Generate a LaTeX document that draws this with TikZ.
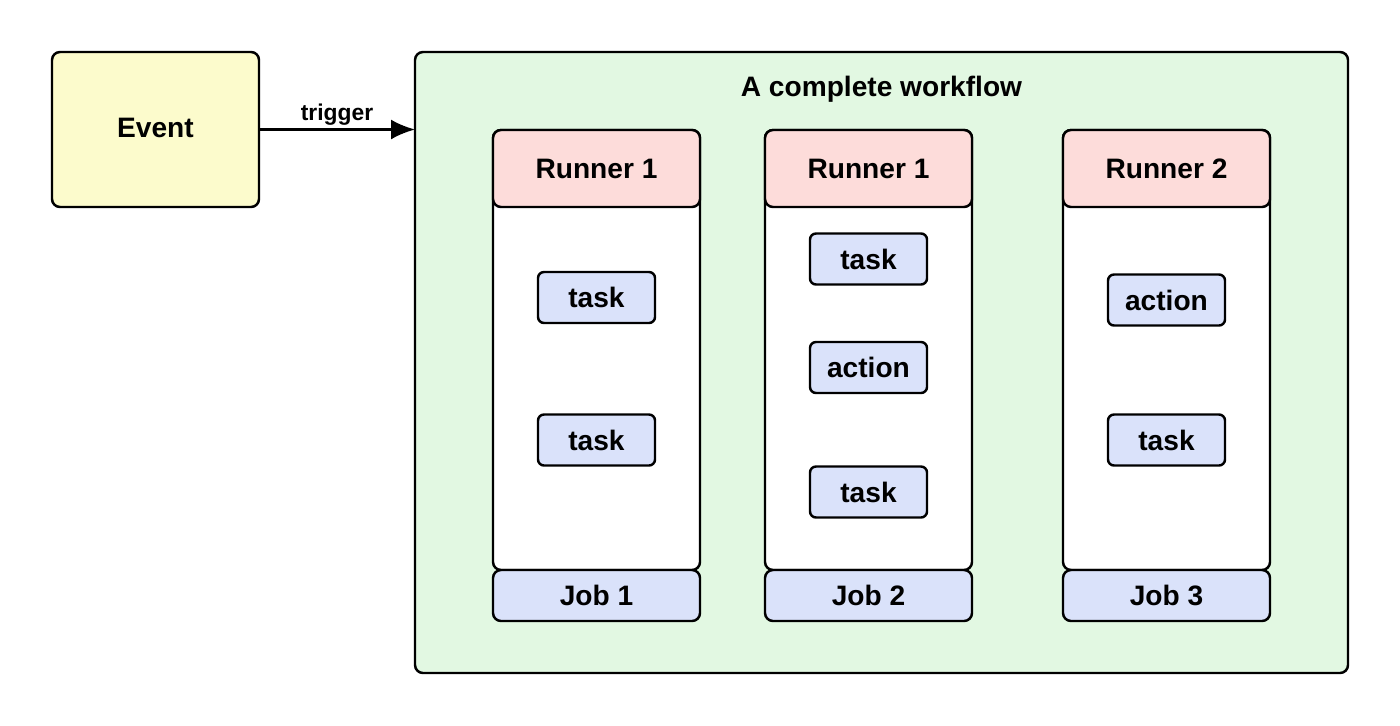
\documentclass[tikz,border=0pt]{standalone}
\usepackage{fontspec}
\setmainfont{Liberation Sans}
\usepackage{tikz}
\usetikzlibrary{arrows.meta, calc, positioning}
\definecolor{eventyellow}{RGB}{252,251,204}
\definecolor{flowgreen}{RGB}{226,248,226}
\definecolor{runnerred}{RGB}{253,220,218}
\definecolor{jobblue}{RGB}{218,226,250}

\begin{document}
\begin{tikzpicture}[>={Latex[length=4.8mm, width=4mm]}, line width=1.4pt,
    every node/.style = {font=\fontsize{16}{19}\bfseries\selectfont, inner sep=0pt, outer sep=0pt},
    box/.style = {draw, rounded corners=0.16cm},
    runner/.style = {box, fill=runnerred, minimum width=4.14cm, minimum height=1.54cm},
    jobbody/.style = {box, fill=white, minimum width=4.14cm, minimum height=8.8cm},
    job/.style = {box, fill=jobblue, minimum width=4.14cm, minimum height=1.02cm},
    task/.style = {box, rounded corners=0.12cm, fill=jobblue, minimum width=2.34cm, minimum height=1.02cm}]
    \useasboundingbox (0,0) rectangle (28,-14.52);

    \node[box, fill=eventyellow, minimum width=4.14cm, minimum height=3.1cm] (event) at (3.11,-2.59) {\raisebox{0.06cm}{Event}};
    \node[box, fill=flowgreen, minimum width=18.66cm, minimum height=12.42cm] (workflow) at (17.63,-7.25) {};
    \node[below = 0.48cm of workflow.north] (workflow-title) {A complete workflow};

    \draw[->] (event.east) -- node[above = 0.08cm, font=\fontsize{13}{15}\bfseries\selectfont] (trigger) {trigger} (event.east -| workflow.west);

    % jobs
    \node[jobbody] (body1) at (11.93,-7.00) {};
    \node[runner, below = 0 of body1.north] (runner1) {Runner 1};
    \node[job, below = 0 of body1.south] (job1) {Job 1};
    \node[jobbody] (body2) at (17.37,-7.00) {};
    \node[runner, below = 0 of body2.north] (runner2) {Runner 1};
    \node[job, below = 0 of body2.south] (job2) {Job 2};
    \node[jobbody] (body3) at (23.33,-7.00) {};
    \node[runner, below = 0 of body3.north] (runner3) {Runner 2};
    \node[job, below = 0 of body3.south] (job3) {Job 3};

    % steps
    \node[task] (task11) at (11.93,-5.95) {task};
    \node[task] (task12) at (11.93,-8.80) {task};
    \node[task] (task21) at (17.37,-5.18) {task};
    \node[task] (action22) at (17.37,-7.35) {action};
    \node[task] (task23) at (17.37,-9.84) {task};
    \node[task] (action31) at (23.33,-6.00) {action};
    \node[task] (task32) at (23.33,-8.80) {task};

\end{tikzpicture}
\end{document}
